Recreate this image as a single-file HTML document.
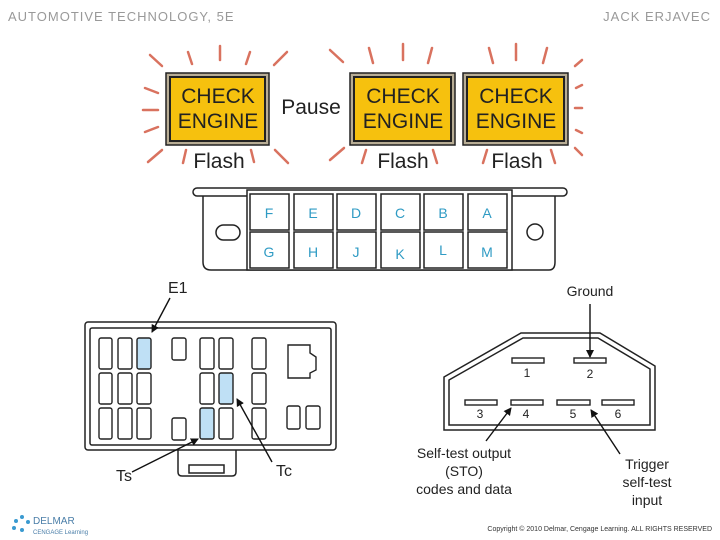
<!DOCTYPE html>
<html><head><meta charset="utf-8"><style>
html,body{margin:0;padding:0;background:#fff;}
svg{display:block;font-family:"Liberation Sans",Arial,sans-serif;}
</style></head><body>
<svg width="720" height="540" viewBox="0 0 720 540" xmlns="http://www.w3.org/2000/svg">
<defs>
<marker id="ar" markerWidth="8" markerHeight="8" refX="7" refY="4" orient="auto" markerUnits="userSpaceOnUse">
<path d="M0,0 L8,4 L0,8 z" fill="#111"/></marker>
</defs>
<text x="8" y="21" font-size="13" fill="#999" letter-spacing="1">AUTOMOTIVE TECHNOLOGY, 5E</text>
<text x="711" y="21" font-size="13" fill="#999" text-anchor="end" letter-spacing="1">JACK ERJAVEC</text>

<!-- rays -->
<g stroke="#d9725f" stroke-width="2.5" stroke-linecap="round">
<line x1="150" y1="55" x2="162" y2="66"/><line x1="188" y1="52" x2="192" y2="64"/><line x1="220" y1="46" x2="220" y2="60"/><line x1="250" y1="52" x2="246" y2="64"/><line x1="287" y1="52" x2="274" y2="65"/>
<line x1="145" y1="88" x2="158" y2="93"/><line x1="143" y1="110" x2="158" y2="110"/><line x1="145" y1="132" x2="158" y2="127"/><line x1="148" y1="162" x2="162" y2="150"/>
<line x1="183" y1="163" x2="186" y2="150"/><line x1="251" y1="150" x2="254" y2="162"/><line x1="275" y1="150" x2="288" y2="163"/>
<line x1="330" y1="50" x2="343" y2="62"/><line x1="369" y1="48" x2="373" y2="63"/><line x1="403" y1="44" x2="403" y2="60"/><line x1="432" y1="48" x2="428" y2="63"/>
<line x1="330" y1="160" x2="344" y2="148"/><line x1="362" y1="163" x2="366" y2="150"/><line x1="433" y1="150" x2="437" y2="163"/>
<line x1="489" y1="48" x2="493" y2="63"/><line x1="516" y1="44" x2="516" y2="60"/><line x1="547" y1="48" x2="543" y2="63"/><line x1="582" y1="60" x2="575" y2="66"/>
<line x1="483" y1="163" x2="487" y2="150"/><line x1="551" y1="150" x2="555" y2="163"/><line x1="575" y1="108" x2="582" y2="108"/><line x1="576" y1="130" x2="582" y2="133"/><line x1="576" y1="88" x2="582" y2="85"/><line x1="575" y1="148" x2="582" y2="155"/>
</g>
<!-- lamps -->
<g>
<rect x="166" y="73" width="103" height="72" fill="#b8ad95" stroke="#222" stroke-width="1.5"/>
<rect x="170" y="77" width="95" height="64" fill="#f6c10e" stroke="#222" stroke-width="2"/>
<rect x="350" y="73" width="105" height="72" fill="#b8ad95" stroke="#222" stroke-width="1.5"/>
<rect x="354" y="77" width="97" height="64" fill="#f6c10e" stroke="#222" stroke-width="2"/>
<rect x="463" y="73" width="105" height="72" fill="#b8ad95" stroke="#222" stroke-width="1.5"/>
<rect x="467" y="77" width="97" height="64" fill="#f6c10e" stroke="#222" stroke-width="2"/>
</g>
<g font-size="21" fill="#222" text-anchor="middle">
<text x="218" y="103">CHECK</text><text x="218" y="128">ENGINE</text>
<text x="403" y="103">CHECK</text><text x="403" y="128">ENGINE</text>
<text x="516" y="103">CHECK</text><text x="516" y="128">ENGINE</text>
<text x="311" y="114">Pause</text>
<text x="219" y="168">Flash</text><text x="403" y="168">Flash</text><text x="517" y="168">Flash</text>
</g>

<!-- DLC connector -->
<g fill="none" stroke="#222" stroke-width="1.5">
<rect x="193" y="188" width="374" height="8" rx="4" fill="#fff"/>
<path d="M203,196 V262 Q203,270 211,270 H549 Q555,270 555,262 V196"/>
<rect x="247" y="190" width="265" height="80" fill="#fff"/>
<rect x="216" y="225" width="24" height="15" rx="7.5"/>
<circle cx="535" cy="232" r="8"/>
</g>
<g fill="#fff" stroke="#222" stroke-width="1.5">
<rect x="250" y="194" width="39" height="36"/><rect x="294" y="194" width="39" height="36"/><rect x="337" y="194" width="39" height="36"/><rect x="381" y="194" width="39" height="36"/><rect x="424" y="194" width="39" height="36"/><rect x="468" y="194" width="39" height="36"/>
<rect x="250" y="232" width="39" height="36"/><rect x="294" y="232" width="39" height="36"/><rect x="337" y="232" width="39" height="36"/><rect x="381" y="232" width="39" height="36"/><rect x="424" y="232" width="39" height="36"/><rect x="468" y="232" width="39" height="36"/>
</g>
<g font-size="14" fill="#2f9bc4" text-anchor="middle">
<text x="269" y="218">F</text><text x="313" y="218">E</text><text x="356" y="218">D</text><text x="400" y="218">C</text><text x="443" y="218">B</text><text x="487" y="218">A</text>
<text x="269" y="257">G</text><text x="313" y="257">H</text><text x="356" y="257">J</text><text x="400" y="259">K</text><text x="443" y="255">L</text><text x="487" y="257">M</text>
</g>

<!-- left connector -->
<g fill="#fff" stroke="#222" stroke-width="1.5">
<path d="M178,450 V472 Q178,476 182,476 H232 Q236,476 236,472 V450"/>
<rect x="189" y="465" width="35" height="8"/>
<rect x="85" y="322" width="251" height="128" rx="3"/>
<rect x="90" y="328" width="241" height="117" rx="2"/>
</g>
<g fill="#fff" stroke="#222" stroke-width="1.4">
<rect x="99" y="338" width="13" height="31" rx="2"/><rect x="118" y="338" width="14" height="31" rx="2"/><rect x="137" y="338" width="14" height="31" rx="2" fill="#bfe0f5"/>
<rect x="99" y="373" width="13" height="31" rx="2"/><rect x="118" y="373" width="14" height="31" rx="2"/><rect x="137" y="373" width="14" height="31" rx="2"/>
<rect x="99" y="408" width="13" height="31" rx="2"/><rect x="118" y="408" width="14" height="31" rx="2"/><rect x="137" y="408" width="14" height="31" rx="2"/>
<rect x="172" y="338" width="14" height="22" rx="2"/><rect x="172" y="418" width="14" height="22" rx="2"/>
<rect x="200" y="338" width="14" height="31" rx="2"/><rect x="219" y="338" width="14" height="31" rx="2"/>
<rect x="200" y="373" width="14" height="31" rx="2"/><rect x="219" y="373" width="14" height="31" rx="2" fill="#bfe0f5"/>
<rect x="200" y="408" width="14" height="31" rx="2" fill="#bfe0f5"/><rect x="219" y="408" width="14" height="31" rx="2"/>
<rect x="252" y="338" width="14" height="31" rx="2"/><rect x="252" y="373" width="14" height="31" rx="2"/><rect x="252" y="408" width="14" height="31" rx="2"/>
<path d="M288,345 H310 V353 L316,357 V370 L310,373 V378 H288 Z"/>
<rect x="287" y="406" width="13" height="23" rx="2"/><rect x="306" y="406" width="14" height="23" rx="2"/>
</g>
<g stroke="#111" stroke-width="1.4" fill="none">
<line x1="170" y1="298" x2="152" y2="332" marker-end="url(#ar)"/>
<line x1="132" y1="472" x2="198" y2="439" marker-end="url(#ar)"/>
<line x1="272" y1="462" x2="237" y2="399" marker-end="url(#ar)"/>
</g>
<g font-size="16" fill="#222">
<text x="168" y="293">E1</text><text x="116" y="481">Ts</text><text x="276" y="476">Tc</text>
</g>

<!-- right connector -->
<g fill="none" stroke="#222" stroke-width="1.5">
<path d="M444,377 L521,333 H600 L655,366 V430 H444 Z"/>
<path d="M449,380 L523,338 H598 L650,369 V425 H449 Z"/>
</g>
<g fill="#fff" stroke="#222" stroke-width="1.4">
<rect x="512" y="358" width="32" height="5"/><rect x="574" y="358" width="32" height="5"/>
<rect x="465" y="400" width="32" height="5"/><rect x="511" y="400" width="32" height="5"/><rect x="557" y="400" width="33" height="5"/><rect x="602" y="400" width="32" height="5"/>
</g>
<g font-size="12" fill="#222" text-anchor="middle">
<text x="527" y="377">1</text><text x="590" y="378">2</text>
<text x="480" y="418">3</text><text x="526" y="418">4</text><text x="573" y="418">5</text><text x="618" y="418">6</text>
</g>
<g stroke="#111" stroke-width="1.4">
<line x1="590" y1="304" x2="590" y2="357" marker-end="url(#ar)"/>
<line x1="486" y1="441" x2="511" y2="408" marker-end="url(#ar)"/>
<line x1="620" y1="454" x2="591" y2="410" marker-end="url(#ar)"/>
</g>
<g font-size="14" fill="#222" text-anchor="middle">
<text x="590" y="296">Ground</text>
<text x="464" y="458">Self-test output</text><text x="464" y="476">(STO)</text><text x="464" y="494">codes and data</text>
<text x="647" y="469">Trigger</text><text x="647" y="487">self-test</text><text x="647" y="505">input</text>
</g>

<!-- footer -->
<g fill="#3a9ad0"><circle cx="16" cy="521" r="2"/><circle cx="22" cy="517" r="2"/><circle cx="14" cy="528" r="2"/><circle cx="22" cy="530" r="2"/><circle cx="28" cy="522" r="2"/></g>
<text x="33" y="524" font-size="10" fill="#4a7ea8">DELMAR</text>
<text x="33" y="534" font-size="6" fill="#4a7ea8">CENGAGE Learning</text>
<text x="712" y="531" font-size="7" fill="#333" text-anchor="end">Copyright © 2010 Delmar, Cengage Learning. ALL RIGHTS RESERVED</text>
</svg>
</body></html>
